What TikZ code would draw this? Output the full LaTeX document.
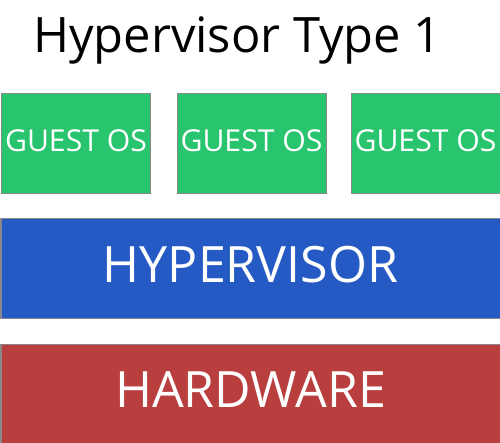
\documentclass[tikz,border=0pt]{standalone}
\usepackage{fontspec}
\setmainfont{Open Sans}
\definecolor{guestgreen}{HTML}{28C46E}
\definecolor{hypblue}{HTML}{255AC4}
\definecolor{hwred}{HTML}{B93E3E}
\definecolor{edgegray}{HTML}{888888}
\begin{document}
\begin{tikzpicture}[x=1bp,y=-1bp,
  layer/.style={draw=edgegray, line width=1bp, inner sep=0pt, anchor=north west},
  guest/.style={layer, fill=guestgreen, minimum width=149bp, minimum height=99bp},
  bigbox/.style={layer, minimum width=499bp, minimum height=99bp},
  smalltxt/.style={anchor=base, text=white, inner sep=0pt, font=\fontsize{30.3}{30}\selectfont},
  bigtxt/.style={anchor=base, text=white, inner sep=0pt, font=\fontsize{50.3}{50}\selectfont}]
\useasboundingbox (0,0) rectangle (500,443);
\node[anchor=base, inner sep=0pt, font=\fontsize{49}{49}\selectfont] (title) at (237.5,53) {Hypervisor Type 1};
\node[guest] (g1) at (1,93.5) {};
\node[guest] (g2) at (176.5,93.5) {};
\node[guest] (g3) at (350.5,93.5) {};
\node[bigbox, fill=hypblue] (hyp) at (0.5,218.5) {};
\node[bigbox, fill=hwred] (hw) at (0.5,343.5) {};
\node[smalltxt] (t1) at ([yshift=-7.7bp]g1.center) {GUEST OS};
\node[smalltxt] (t2) at ([yshift=-7.7bp]g2.center) {GUEST OS};
\node[smalltxt] (t3) at ([yshift=-7.7bp]g3.center) {GUEST OS};
\node[bigtxt] (th) at ([yshift=-14bp]hyp.center) {HYPERVISOR};
\node[bigtxt] (tw) at ([yshift=-14bp]hw.center) {HARDWARE};
\end{tikzpicture}
\end{document}
